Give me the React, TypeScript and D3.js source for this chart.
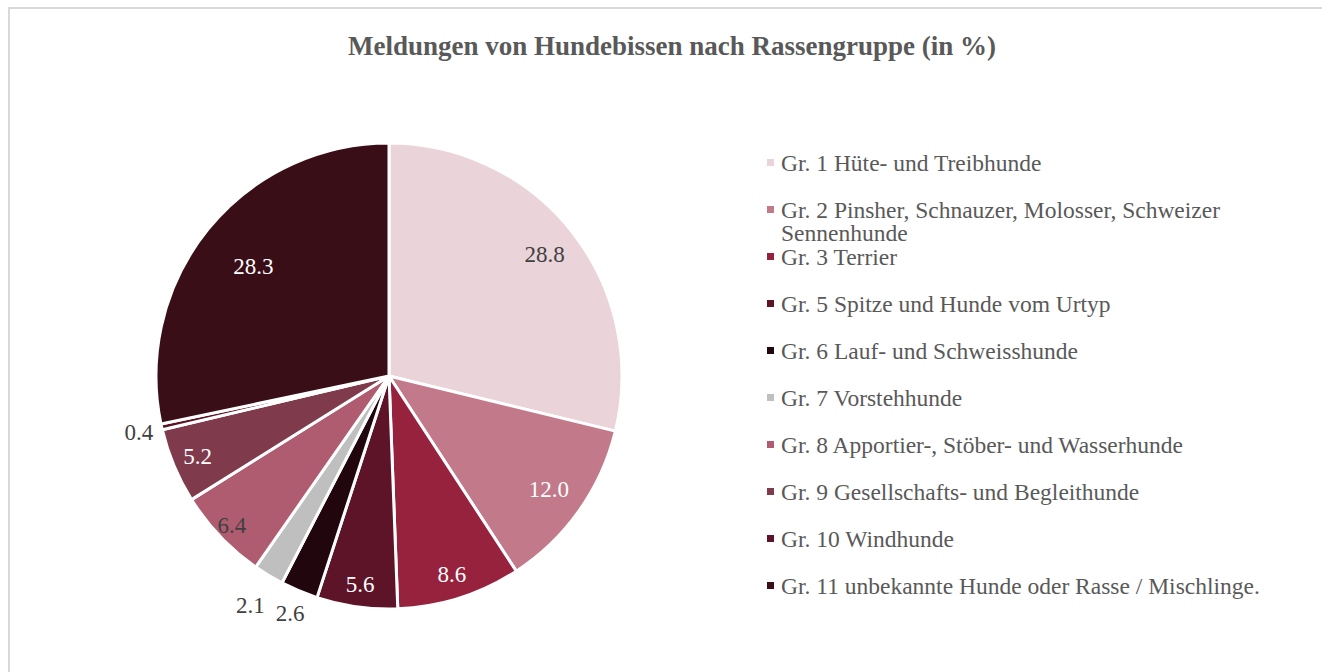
import React from "react";
import * as d3 from "d3";

const categories = [
  "Gr. 1 Hüte- und Treibhunde",
  "Gr. 2 Pinsher, Schnauzer, Molosser, Schweizer Sennenhunde",
  "Gr. 3 Terrier",
  "Gr. 5 Spitze und Hunde vom Urtyp",
  "Gr. 6 Lauf- und Schweisshunde",
  "Gr. 7 Vorstehhunde",
  "Gr. 8 Apportier-, Stöber- und Wasserhunde",
  "Gr. 9 Gesellschafts- und Begleithunde",
  "Gr. 10 Windhunde",
  "Gr. 11 unbekannte Hunde oder Rasse / Mischlinge.",
];
const values = [28.8, 12.0, 8.6, 5.6, 2.6, 2.1, 6.4, 5.2, 0.4, 28.3];
const title = "Meldungen von Hundebissen nach Rassengruppe (in %)";

const colors = ["#EAD3D9", "#C27A8A", "#96223E", "#5E1428", "#22060E", "#BFBFBF", "#B05C70", "#7F3A4C", "#5E1428", "#3A0E17"];
const labelColors = ["#404040", "#ffffff", "#ffffff", "#ffffff", "#404040", "#404040", "#404040", "#ffffff", "#404040", "#ffffff"];
// radial label placement factor relative to pie radius
const labelFactor = [0.85, 0.84, 0.89, 0.9, 1.1, 1.15, 0.93, 0.89, 1.1, 0.75];
const legendLines: string[][] = [
  ["Gr. 1 Hüte- und Treibhunde"],
  ["Gr. 2 Pinsher, Schnauzer, Molosser, Schweizer", "Sennenhunde"],
  ["Gr. 3 Terrier"],
  ["Gr. 5 Spitze und Hunde vom Urtyp"],
  ["Gr. 6 Lauf- und Schweisshunde"],
  ["Gr. 7 Vorstehhunde"],
  ["Gr. 8 Apportier-, Stöber- und Wasserhunde"],
  ["Gr. 9 Gesellschafts- und Begleithunde"],
  ["Gr. 10 Windhunde"],
  ["Gr. 11 unbekannte Hunde oder Rasse / Mischlinge."],
];

export default function App() {
  const W = 1322, H = 672;
  const cx = 389, cy = 376, R = 233;
  const font = '"Liberation Serif", "DejaVu Serif", serif';
  const pie = d3.pie<number>().sort(null).value((d) => d);
  const arcs = pie(values);
  const arc = d3.arc<d3.PieArcDatum<number>>().innerRadius(0).outerRadius(R);
  const legendY = d3.scaleLinear().domain([0, 9]).range([163, 586]);

  return (
    <svg width={W} height={H} style={{ position: "absolute", left: 0, top: 0, fontFamily: font }}>
      <rect x={0} y={0} width={W} height={H} fill="#fff" />
      <rect x={9} y={8} width={W + 10} height={H + 10} fill="#fff" stroke="#d9d9d9" strokeWidth={2} />
      <text x={672} y={55} textAnchor="middle" fontSize={27} fontWeight="bold" fill="#595959">{title}</text>
      <g transform={`translate(${cx},${cy})`}>
        {arcs.map((a, i) => (
          <path key={i} d={arc(a) || ""} fill={colors[i]} stroke="#fff" strokeWidth={3} strokeLinejoin="round" />
        ))}
        {arcs.map((a, i) => {
          const m = (a.startAngle + a.endAngle) / 2;
          const r = R * labelFactor[i];
          const x = Math.sin(m) * r;
          const y = -Math.cos(m) * r;
          return (
            <text key={i} x={x} y={y} dy="0.35em" textAnchor="middle" fontSize={23} fill={labelColors[i]}>
              {values[i].toFixed(1)}
            </text>
          );
        })}
      </g>
      {legendLines.map((lines, i) => (
        <g key={i} transform={`translate(767,${legendY(i)})`}>
          <rect x={0} y={-4} width={7} height={7} fill={colors[i]} />
          <text x={14} y={0} fontSize={23.5} fill="#595959">
            {lines.map((l, j) => (
              <tspan key={j} x={14} dy={j === 0 ? "0.33em" : "1.0em"}>{l}</tspan>
            ))}
          </text>
        </g>
      ))}
    </svg>
  );
}
